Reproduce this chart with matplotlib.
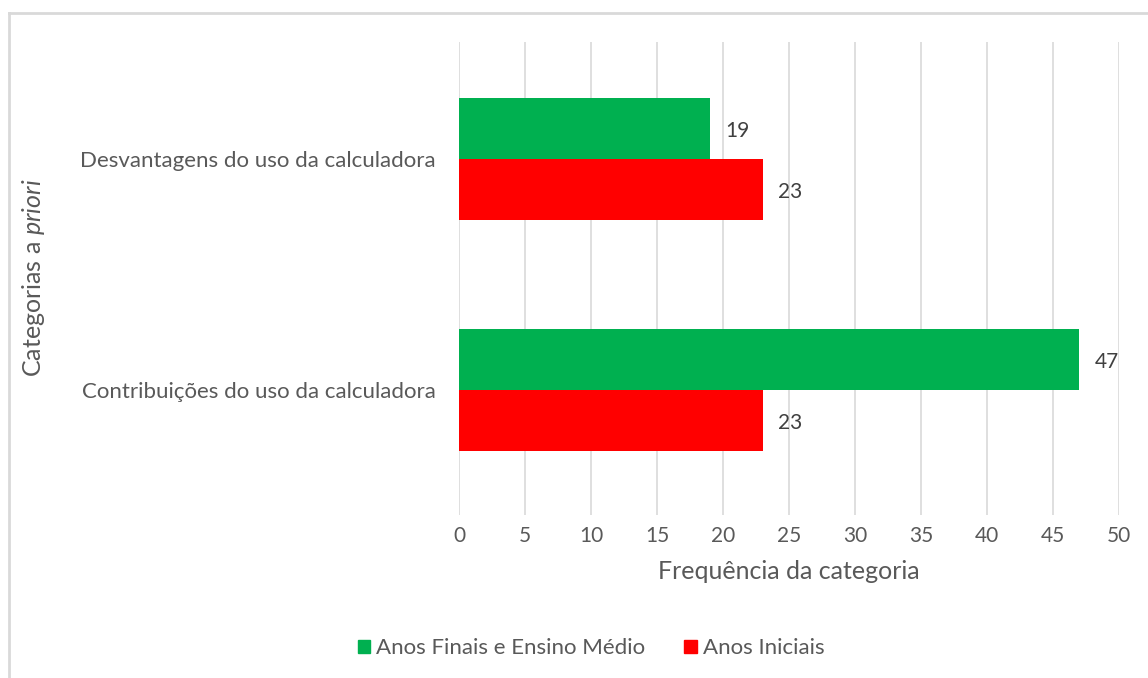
import numpy as np
import matplotlib.pyplot as plt
from matplotlib.lines import Line2D
from matplotlib.patches import Patch

plt.rcParams['font.family'] = ['Lato', 'DejaVu Sans']
plt.rcParams['mathtext.fontset'] = 'custom'
plt.rcParams['mathtext.rm'] = 'Lato'
plt.rcParams['mathtext.it'] = 'Lato:italic'

categories = ["Contribuições do uso da calculadora",
              "Desvantagens do uso da calculadora"]
series_names = ["Anos Finais e Ensino Médio", "Anos Iniciais"]
finais = [47, 19]
iniciais = [23, 23]
xticks = [0, 5, 10, 15, 20, 25, 30, 35, 40, 45, 50]

GREEN = "#00B050"
RED = "#FF0000"
TXT = "#595959"
GRID = "#D9D9D9"

fig = plt.figure(figsize=(11.48, 6.78), dpi=100)
ax = fig.add_axes([0.3998, 0.2404, 0.5749, 0.6976])

y = np.arange(len(categories))
h = 0.264
ax.barh(y + h / 2, finais, height=h, color=GREEN, label=series_names[0], zorder=3)
ax.barh(y - h / 2, iniciais, height=h, color=RED, label=series_names[1], zorder=3)

# value labels at bar ends
for yi, v in zip(y + h / 2, finais):
    ax.text(v + 1.2, yi - 0.01, str(v), ha='left', va='center', fontsize=15, color="#404040")
for yi, v in zip(y - h / 2, iniciais):
    ax.text(v + 1.2, yi - 0.01, str(v), ha='left', va='center', fontsize=15, color="#404040")

ax.set_xlim(0, 50)
ax.set_ylim(-0.54, 1.506)
ax.set_xticks(xticks)
ax.set_xticklabels([str(t) for t in xticks])
ax.set_yticks(y)
ax.set_yticklabels(categories)
ax.tick_params(axis='x', length=0, labelsize=15, colors=TXT, pad=8)
ax.tick_params(axis='y', length=0, labelsize=16, colors=TXT, pad=16.5)
ax.grid(axis='x', color=GRID, linewidth=1.2, zorder=0)
for s in ax.spines.values():
    s.set_visible(False)

ax.set_xlabel("Frequência da categoria", fontsize=18, color=TXT, labelpad=10)
fig.text(0.029, 0.59, r"Categorias a $\it{priori}$", rotation=90, fontsize=18,
         color=TXT, ha='center', va='center')

handles = [Patch(color=GREEN, label=series_names[0]),
           Patch(color=RED, label=series_names[1])]
fig.legend(handles=handles, loc='center', bbox_to_anchor=(0.515, 0.044), ncol=2,
           frameon=False, fontsize=16, labelcolor=TXT, handlelength=0.55,
           handleheight=0.55, handletextpad=0.3, columnspacing=1.75)

# chart frame (only top and left edges fall inside the image)
fig.add_artist(Line2D([0.0075, 0.0075], [0, 0.981], color=GRID, linewidth=2,
                      transform=fig.transFigure))
fig.add_artist(Line2D([0.0075, 1.0], [0.981, 0.981], color=GRID, linewidth=2,
                      transform=fig.transFigure))

fig.savefig("out.png", dpi=100)
